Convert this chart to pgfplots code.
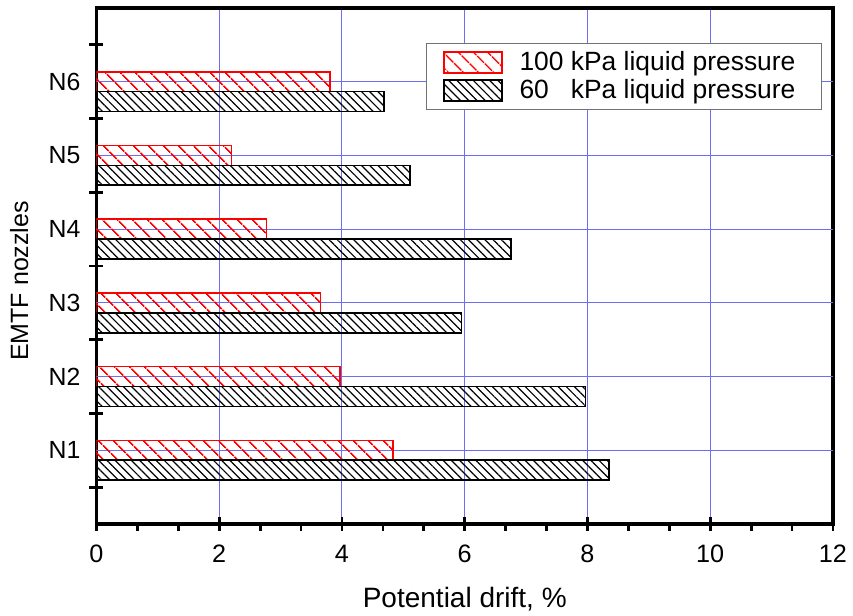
\documentclass[border=0pt]{standalone}
\usepackage{fontspec}
\setmainfont{Liberation Sans}
\usepackage{pgfplots}
\pgfplotsset{compat=1.18}
\usetikzlibrary{patterns.meta}
\definecolor{gridblue}{RGB}{110,110,245}
\begin{document}
\begin{tikzpicture}
\useasboundingbox (0,0) rectangle (426.5pt,308pt);
\begin{axis}[
  at={(48.25pt,46pt)}, anchor=south west,
  scale only axis, width=368.25pt, height=258pt,
  xmin=0, xmax=12, ymin=0, ymax=7,
  xtick={0,2,...,12}, minor x tick num=2,
  ytick={0.5,1.5,...,6.5}, yticklabels={},
  extra y ticks={1,2,3,4,5,6},
  extra y tick labels={N1,N2,N3,N4,N5,N6},
  extra y tick style={major tick length=0pt, grid=major},
  xmajorgrids,
  grid style={gridblue, line width=0.5pt},
  xtick pos=bottom, ytick pos=left,
  tick align=center,
  major tick length=7pt, minor tick length=3.5pt,
  every minor x tick/.append style={yshift=-1.75pt},
  tick style={black, line width=1.4pt},
  axis line style={line width=1.8pt},
  /pgf/number format/assume math mode=true,
  xticklabel style={font=\fontsize{12.6}{15}\selectfont, yshift=-3.5pt},
  yticklabel style={font=\fontsize{12.4}{15}\selectfont, xshift=-4.5pt},
  xlabel={Potential drift, \%},
  ylabel={EMTF nozzles},
  xlabel style={font=\fontsize{14}{16}\selectfont, at={(axis description cs:0.5,0)}, anchor=base, yshift=-42pt},
  ylabel style={font=\fontsize{12.5}{15}\selectfont, at={(axis description cs:-0.105,0.471)}, anchor=center},
  legend style={at={(axis description cs:0.985,0.932)}, anchor=north east, draw=black!55, line width=0.5pt,
     font=\fontsize{13.2}{15}\selectfont, row sep=2pt, inner xsep=8pt, inner ysep=3.5pt,
     nodes={inner xsep=0pt, inner ysep=0.5pt},
     /tikz/every odd column/.append style={column sep=8.5pt}},
  legend cell align=left,
  mylegend/.style={legend image code/.code={\draw[##1] (0pt,-5.25pt) rectangle (29pt,5.25pt);}},
]
\addplot[xbar, bar width=0.27, bar shift=0, draw=red, line width=0.8pt,
  pattern={Lines[angle=-45,distance=5.4pt,line width=0.8pt]}, pattern color=red, mylegend]
  coordinates {(4.83,1) (3.97,2) (3.65,3) (2.77,4) (2.20,5) (3.80,6)};
\addplot[xbar, bar width=0.27, bar shift=-0.27, draw=black, line width=0.8pt,
  pattern={Lines[angle=-45,distance=2.9pt,line width=0.6pt]}, pattern color=black, mylegend]
  coordinates {(8.35,1) (7.97,2) (5.95,3) (6.75,4) (5.11,5) (4.68,6)};
\legend{100 kPa liquid pressure\hspace*{5pt}, 60\phantom{0} kPa liquid pressure\hspace*{5pt}}
\end{axis}
\end{tikzpicture}
\end{document}
